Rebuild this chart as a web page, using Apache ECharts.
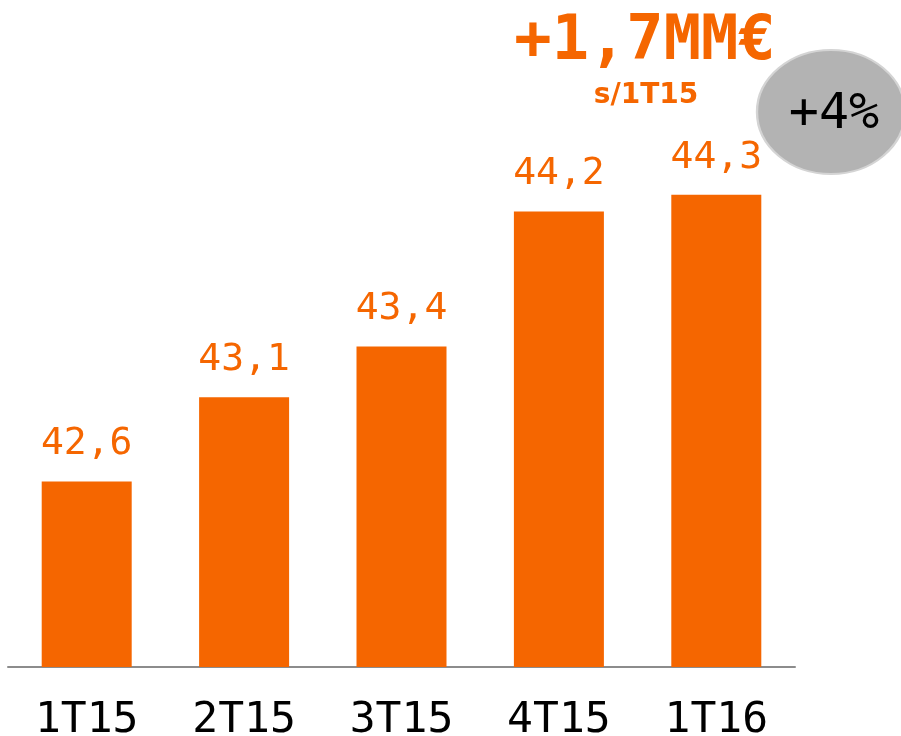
<!DOCTYPE html>
<html>
<head>
<meta charset="utf-8">
<script src="https://cdn.jsdelivr.net/npm/echarts@6/dist/echarts.min.js"></script>
<style>
  html, body { margin: 0; padding: 0; background: #fff; }
  #chart { width: 901px; height: 736px; }
</style>
</head>
<body>
<div id="chart"></div>
<script>
const quarters = ['1T15', '2T15', '3T15', '4T15', '1T16'];
const ingresos = [42.6, 43.1, 43.4, 44.2, 44.3];
const headline = '+1,7MM€';
const subline = 's/1T15';
const growth = '+4%';

const orange = '#F56600';
const mono = '"DejaVu Sans Mono", monospace';

const chart = echarts.init(document.getElementById('chart'));

chart.setOption({
  animation: false,
  grid: { left: 8, right: 106, top: 161, bottom: 69, containLabel: false, outerBoundsMode: 'none' },
  xAxis: {
    type: 'category',
    data: quarters,
    axisTick: { show: false },
    axisLine: { lineStyle: { color: '#8c8c8c', width: 2 } },
    axisLabel: { color: '#000', fontFamily: mono, fontSize: 43, margin: 32 }
  },
  yAxis: {
    type: 'value',
    min: 41.5,
    max: 44.5,
    show: false
  },
  series: [{
    type: 'bar',
    data: ingresos,
    barWidth: 90,
    itemStyle: { color: orange },
    label: {
      show: true,
      position: 'top',
      distance: 18,
      color: orange,
      fontFamily: mono,
      fontSize: 38,
      formatter: p => p.value.toFixed(1).replace('.', ',')
    }
  }],
  graphic: [
    {
      type: 'text',
      x: 645, y: 43,
      style: {
        text: headline, fill: orange, fontFamily: mono, fontWeight: 'bold',
        fontSize: 62, align: 'center', verticalAlign: 'middle'
      }
    },
    {
      type: 'text',
      x: 646, y: 96,
      style: {
        text: subline, fill: orange, fontFamily: '"DejaVu Sans", sans-serif', fontWeight: 'bold',
        fontSize: 28, align: 'center', verticalAlign: 'middle'
      }
    },
    {
      type: 'circle',
      x: 831, y: 112, scaleX: 74 / 62,
      shape: { cx: 0, cy: 0, r: 62 },
      style: { fill: '#b3b3b3', stroke: '#d4d4d4', lineWidth: 2 }
    },
    {
      type: 'text',
      x: 834, y: 115,
      style: {
        text: growth, fill: '#000', fontFamily: mono,
        fontSize: 50, align: 'center', verticalAlign: 'middle'
      }
    }
  ]
});
</script>
</body>
</html>
